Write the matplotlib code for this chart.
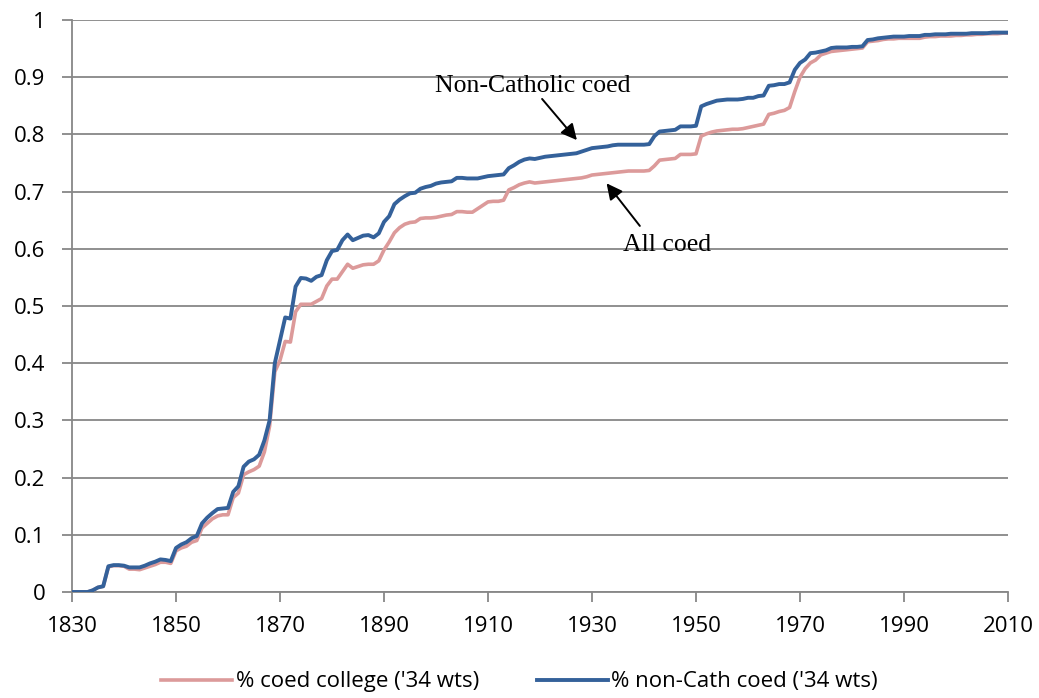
import numpy as np
import matplotlib
matplotlib.use("Agg")
import matplotlib.pyplot as plt

# years 1830..2010
years = np.arange(1830, 2011)

# % non-Cath coed ('34 wts)
noncath = [
    0.000, 0.000, 0.000, 0.000, 0.003, 0.008, 0.010, 0.045, 0.047, 0.047,   # 1830s
    0.046, 0.043, 0.043, 0.043, 0.046, 0.050, 0.053, 0.057, 0.056, 0.054,   # 1840s
    0.077, 0.083, 0.087, 0.094, 0.098, 0.120, 0.130, 0.138, 0.145, 0.146,   # 1850s
    0.147, 0.175, 0.185, 0.219, 0.228, 0.232, 0.240, 0.265, 0.300, 0.400,   # 1860s
    0.440, 0.480, 0.478, 0.534, 0.549, 0.548, 0.544, 0.551, 0.554, 0.580,   # 1870s
    0.596, 0.598, 0.615, 0.625, 0.615, 0.619, 0.623, 0.624, 0.620, 0.627,   # 1880s
    0.647, 0.657, 0.678, 0.686, 0.692, 0.697, 0.698, 0.705, 0.708, 0.710,   # 1890s
    0.714, 0.716, 0.717, 0.718, 0.724, 0.724, 0.723, 0.723, 0.723, 0.725,   # 1900s
    0.727, 0.728, 0.729, 0.730, 0.741, 0.746, 0.752, 0.756, 0.758, 0.757,   # 1910s
    0.759, 0.761, 0.762, 0.763, 0.764, 0.765, 0.766, 0.767, 0.770, 0.773,   # 1920s
    0.776, 0.777, 0.778, 0.779, 0.781, 0.782, 0.782, 0.782, 0.782, 0.782,   # 1930s
    0.782, 0.783, 0.797, 0.805, 0.806, 0.807, 0.808, 0.814, 0.814, 0.814,   # 1940s
    0.815, 0.849, 0.853, 0.856, 0.859, 0.860, 0.861, 0.861, 0.861, 0.862,   # 1950s
    0.864, 0.864, 0.867, 0.868, 0.885, 0.886, 0.888, 0.888, 0.891, 0.913,   # 1960s
    0.925, 0.931, 0.942, 0.943, 0.945, 0.947, 0.951, 0.952, 0.952, 0.952,   # 1970s
    0.953, 0.953, 0.954, 0.965, 0.966, 0.968, 0.969, 0.970, 0.971, 0.971,   # 1980s
    0.971, 0.972, 0.972, 0.972, 0.974, 0.974, 0.975, 0.975, 0.975, 0.976,   # 1990s
    0.976, 0.976, 0.976, 0.977, 0.977, 0.977, 0.977, 0.978, 0.978, 0.978,   # 2000s
    0.978,
]

# % coed college ('34 wts)
allcoed = [
    0.000, 0.000, 0.000, 0.000, 0.003, 0.008, 0.010, 0.044, 0.046, 0.046,
    0.045, 0.040, 0.040, 0.039, 0.042, 0.045, 0.048, 0.052, 0.052, 0.050,
    0.072, 0.077, 0.080, 0.087, 0.090, 0.112, 0.120, 0.128, 0.133, 0.135,
    0.135, 0.165, 0.173, 0.205, 0.210, 0.214, 0.220, 0.245, 0.290, 0.385,
    0.405, 0.438, 0.437, 0.490, 0.503, 0.503, 0.503, 0.508, 0.513, 0.535,
    0.547, 0.547, 0.560, 0.573, 0.566, 0.569, 0.572, 0.573, 0.573, 0.579,
    0.598, 0.612, 0.628, 0.637, 0.643, 0.646, 0.647, 0.653, 0.654, 0.654,
    0.655, 0.657, 0.659, 0.660, 0.665, 0.665, 0.664, 0.664, 0.670, 0.676,
    0.682, 0.683, 0.683, 0.685, 0.703, 0.707, 0.712, 0.715, 0.717, 0.715,
    0.716, 0.717, 0.718, 0.719, 0.720, 0.721, 0.722, 0.723, 0.724, 0.726,
    0.729, 0.730, 0.731, 0.732, 0.733, 0.734, 0.735, 0.736, 0.736, 0.736,
    0.736, 0.737, 0.745, 0.755, 0.756, 0.757, 0.758, 0.765, 0.765, 0.765,
    0.766, 0.797, 0.801, 0.804, 0.806, 0.807, 0.808, 0.809, 0.809, 0.810,
    0.812, 0.814, 0.816, 0.818, 0.835, 0.837, 0.840, 0.842, 0.847, 0.875,
    0.900, 0.915, 0.925, 0.930, 0.939, 0.942, 0.945, 0.946, 0.947, 0.948,
    0.949, 0.950, 0.951, 0.962, 0.963, 0.964, 0.966, 0.967, 0.967, 0.968,
    0.968, 0.968, 0.968, 0.968, 0.970, 0.971, 0.971, 0.972, 0.972, 0.972,
    0.973, 0.973, 0.974, 0.974, 0.975, 0.975, 0.976, 0.976, 0.976, 0.977,
    0.977,
]

xticks = np.arange(1830, 2011, 20)
yticks = np.round(np.arange(0, 1.01, 0.1), 1)
ylabels = ['0'] + ['%.1f' % v for v in yticks[1:-1]] + ['1']

pink = '#dc9a9a'
blue = '#34619a'
grey = '#878787'

plt.rcParams['font.family'] = ['Open Sans', 'DejaVu Sans']

fig = plt.figure(figsize=(10.39, 6.98), dpi=100)
ax = fig.add_axes([72/1039, 1 - 592/698, (1008 - 72)/1039, (592 - 20)/698])

ax.plot(years, allcoed, color=pink, lw=2.6, label="% coed college ('34 wts)", zorder=3)
ax.plot(years, noncath, color=blue, lw=2.8, label="% non-Cath coed ('34 wts)", zorder=4)

ax.set_xlim(1830, 2010)
ax.set_ylim(0, 1)
ax.set_xticks(xticks)
ax.set_yticks(yticks)
ax.set_yticklabels(ylabels)
ax.yaxis.grid(True, color=grey, lw=1.3)
ax.set_axisbelow(True)

for s in ['top', 'right']:
    ax.spines[s].set_visible(False)
for s in ['left', 'bottom']:
    ax.spines[s].set_color(grey)
    ax.spines[s].set_linewidth(1.3)
ax.tick_params(axis='both', colors=grey, length=7, width=1.3, labelcolor='black',
               labelsize=16)
ax.tick_params(axis='y', pad=12)
ax.tick_params(axis='x', pad=10)

serif = ['Liberation Serif', 'DejaVu Serif']
arrow = dict(arrowstyle='-|>', color='black', lw=1.4, mutation_scale=24,
             shrinkA=0, shrinkB=0)
ax.text(1918.7, 0.884, 'Non-Catholic coed', ha='center', va='center',
        fontsize=18.5, family=serif)
ax.annotate('', xy=(1927.1, 0.790), xytext=(1920.4, 0.862), arrowprops=arrow)
ax.text(1944.4, 0.606, 'All coed', ha='center', va='center',
        fontsize=18.5, family=serif)
ax.annotate('', xy=(1932.8, 0.7145), xytext=(1939.2, 0.640), arrowprops=arrow)

fig.legend(loc='center', bbox_to_anchor=(0.5, 1 - 682/698), ncol=2, frameon=False,
           fontsize=16, handlelength=3.2, handletextpad=0.15, columnspacing=2.6)

fig.savefig('out.png', dpi=100)
